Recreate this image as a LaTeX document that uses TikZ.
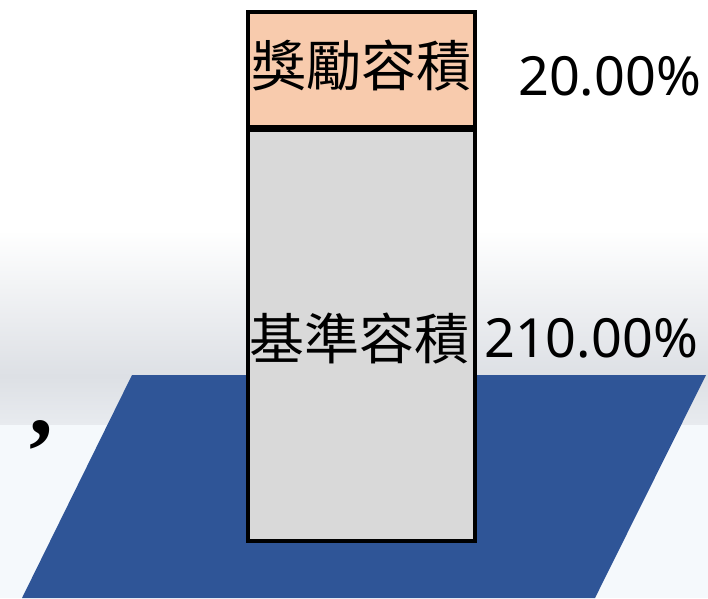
\documentclass[tikz,border=0pt]{standalone}
\usepackage{fontspec}
\newfontfamily\cjk{Noto Sans CJK TC}
\newfontfamily\lat{Noto Sans}
\newfontfamily\serifb{Liberation Serif}
\definecolor{plateblue}{HTML}{2F5597}
\definecolor{peach}{HTML}{F8CBAD}
\definecolor{boxgrey}{HTML}{D9D9D9}
\definecolor{bandgrey}{HTML}{DDE0E5}
\definecolor{bandlow}{HTML}{E8EBEF}
\definecolor{floor}{HTML}{F5F9FC}
\begin{document}
\begin{tikzpicture}[x=1pt,y=-1pt,
  barbox/.style={draw=black,line width=3.5pt,inner sep=0pt,minimum width=227pt},
  cjklabel/.style={font=\cjk\fontsize{55}{60}\selectfont,inner sep=0pt},
  pctlabel/.style={font=\lat\fontsize{54}{60}\selectfont,inner sep=0pt,anchor=base west}]
\useasboundingbox (0,0) rectangle (708,598);
% background
\fill[white] (0,0) rectangle (708,230);
\shade[top color=white,bottom color=bandgrey] (0,230) rectangle (708,376);
\shade[top color=bandgrey,bottom color=bandlow] (0,376) rectangle (708,425);
\fill[floor] (0,425) rectangle (708,598);
% plate
\fill[plateblue] (132,375) -- (706,375) -- (595,598) -- (22,598) -- cycle;
% bar
\node[barbox,fill=boxgrey,minimum height=411pt,anchor=north west] (base) at (246,128) {};
\node[barbox,fill=peach,minimum height=114.5pt,anchor=south west] (bonus) at (base.north west) {};
\node[cjklabel] (bonustxt) at ([yshift=3pt]bonus.center) {獎勵容積};
\node[cjklabel] (basetxt) at (359.5,339) {基準容積};
\node[pctlabel] (bonuspct) at (518,95) {20.00\%};
\node[pctlabel] (basepct) at (484,357) {210.00\%};
\node[font=\serifb\bfseries\fontsize{95}{95}\selectfont,inner sep=0pt,anchor=base] (comma) at (41,434) {,};
\end{tikzpicture}
\end{document}
